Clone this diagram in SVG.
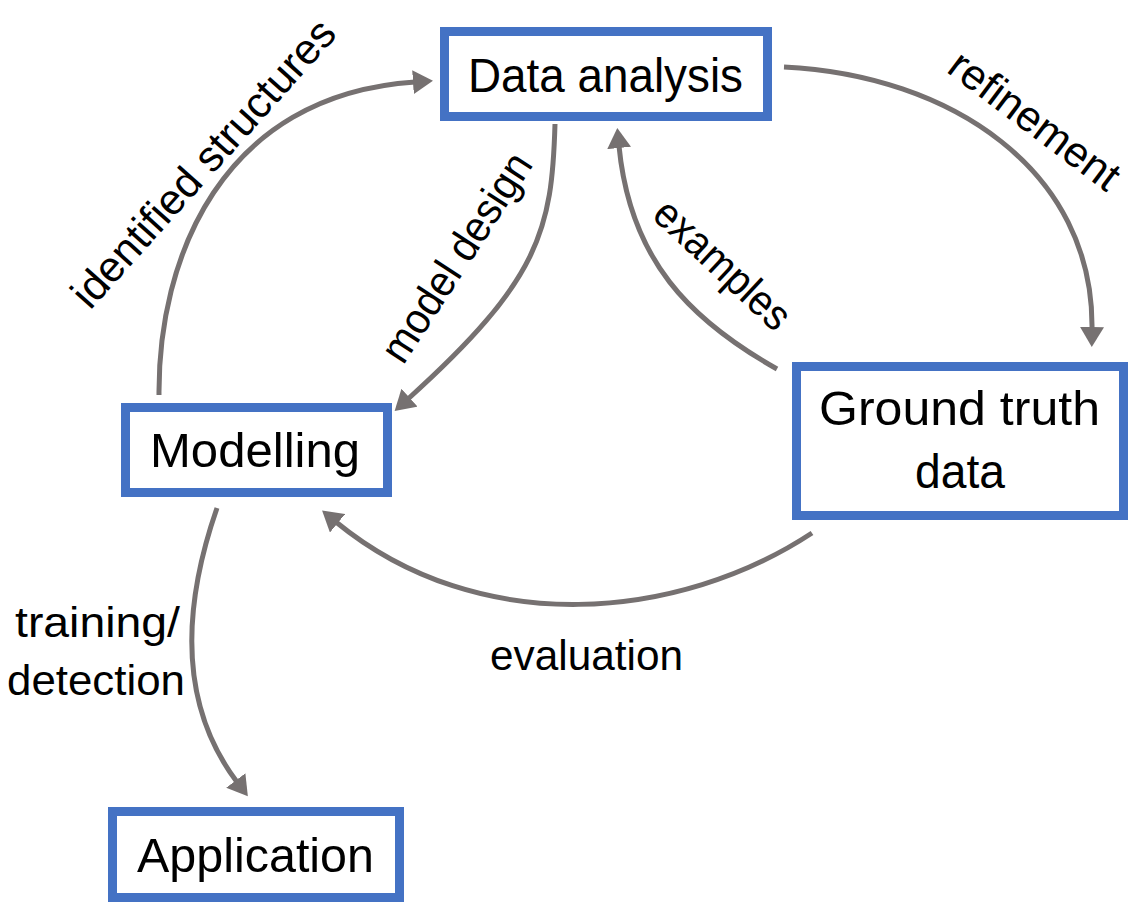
<svg xmlns="http://www.w3.org/2000/svg" width="1137" height="909" viewBox="0 0 1137 909">
<style>
.box{fill:#ffffff;stroke:#4472c4;stroke-width:9}
.bt{font-family:"Liberation Sans",Arial,sans-serif;font-size:49px;fill:#000;text-anchor:middle}
.lb{font-family:"Liberation Sans",Arial,sans-serif;font-size:43px;fill:#000;text-anchor:middle}
.cn{fill:none;stroke:#767171;stroke-width:5;marker-end:url(#ah)}
</style>
<defs>
<marker id="ah" markerUnits="userSpaceOnUse" viewBox="0 0 20 24" markerWidth="20" markerHeight="24" refX="2" refY="12" orient="auto">
<path d="M0,0 L20,12 L0,24 z" fill="#767171"/>
</marker>
</defs>
<rect width="1137" height="909" fill="#ffffff"/>
<g id="connectors">
<path class="cn" d="M159,395 C158,260 220,95 415,82"/>
<path class="cn" d="M555,124 C552,230 540,280 408,399"/>
<path class="cn" d="M784,67 C950,75 1094,170 1092,329"/>
<path class="cn" d="M777,369 C690,320 630,260 619,146"/>
<path class="cn" d="M812,533 C680,620 480,640 336,522"/>
<path class="cn" d="M217,508 C185,600 175,700 237,782"/>
</g>
<g id="labels">
<text class="lb" transform="translate(203,163) rotate(-48)" y="15" textLength="371" lengthAdjust="spacingAndGlyphs">identified structures</text>
<text class="lb" transform="translate(456,257) rotate(-57)" y="15" textLength="240" lengthAdjust="spacingAndGlyphs">model design</text>
<text class="lb" transform="translate(723,264) rotate(43)" y="15" textLength="170" lengthAdjust="spacingAndGlyphs">examples</text>
<text class="lb" transform="translate(1035,120) rotate(37)" y="15" textLength="202" lengthAdjust="spacingAndGlyphs">refinement</text>
<text class="lb" x="586.5" y="670" textLength="193" lengthAdjust="spacingAndGlyphs">evaluation</text>
<text class="lb" x="97.5" y="637" textLength="165" lengthAdjust="spacingAndGlyphs">training/</text>
<text class="lb" x="96" y="695" textLength="178" lengthAdjust="spacingAndGlyphs">detection</text>
</g>
<g id="node-data-analysis">
<rect class="box" x="444.5" y="31.5" width="323" height="85"/>
<text class="bt" x="605.5" y="92" textLength="275" lengthAdjust="spacingAndGlyphs">Data analysis</text>
</g>
<g id="node-modelling">
<rect class="box" x="125.5" y="407.5" width="262" height="85"/>
<text class="bt" x="255" y="467" textLength="210" lengthAdjust="spacingAndGlyphs">Modelling</text>
</g>
<g id="node-ground-truth">
<rect class="box" x="796.5" y="366.5" width="327" height="149"/>
<text class="bt" x="959.5" y="425" textLength="281" lengthAdjust="spacingAndGlyphs">Ground truth</text>
<text class="bt" x="960" y="488" textLength="90" lengthAdjust="spacingAndGlyphs">data</text>
</g>
<g id="node-application">
<rect class="box" x="112.5" y="811.5" width="287" height="86"/>
<text class="bt" x="255.5" y="872" textLength="237" lengthAdjust="spacingAndGlyphs">Application</text>
</g>
</svg>
